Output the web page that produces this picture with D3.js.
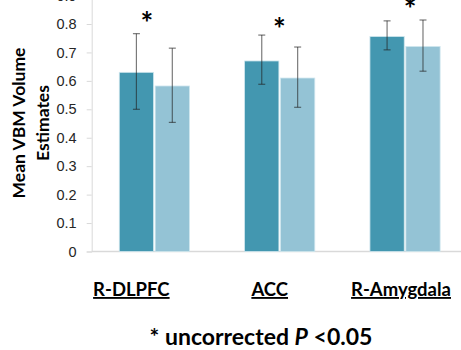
<!DOCTYPE html>
<html>
<head>
<meta charset="utf-8">
<script src="https://cdn.jsdelivr.net/npm/d3@7"></script>
<style>
  html, body { margin: 0; padding: 0; background: #fff; overflow: hidden; }
  svg { display: block; font-family: Lato, "Open Sans", sans-serif; }
</style>
</head>
<body>
<div id="chart"></div>
<script>
// data
const regions = ['R-DLPFC', 'ACC', 'R-Amygdala'];
const series = ['group1', 'group2'];
const group1Mean = [0.63, 0.67, 0.756];
const group1Lo = [0.50, 0.588, 0.709];
const group1Hi = [0.766, 0.761, 0.811];
const group2Mean = [0.582, 0.61, 0.721];
const group2Lo = [0.454, 0.507, 0.634];
const group2Hi = [0.715, 0.719, 0.814];
const sigLevel = [0.82, 0.80, 0.872]; // where the * sits
const yTicks = [0, 0.1, 0.2, 0.3, 0.4, 0.5, 0.6, 0.7, 0.8, 0.9];

const colors = { group1: '#4397b0', group2: '#94c3d5' };

const width = 461;
const height = 350;

const svg = d3.select('#chart')
  .append('svg')
  .attr('width', width)
  .attr('height', height);

const x = d3.scaleBand()
  .domain(regions)
  .range([91.7, 467.7])
  .paddingInner(0.44)
  .paddingOuter(0.22);

const xSub = d3.scaleBand()
  .domain(series)
  .range([0, x.bandwidth()])
  .paddingInner(0.045);

const y = d3.scaleLinear()
  .domain([0, 0.9])
  .range([251.5, -4.45]);

const rows = [];
regions.forEach((r, i) => {
  rows.push({ region: r, s: 'group1', v: group1Mean[i], lo: group1Lo[i], hi: group1Hi[i] });
  rows.push({ region: r, s: 'group2', v: group2Mean[i], lo: group2Lo[i], hi: group2Hi[i] });
});

// y axis
const yAxis = svg.append('g')
  .attr('transform', 'translate(91.7,0)')
  .call(d3.axisLeft(y).tickValues(yTicks).tickSize(5).tickPadding(10)
    .tickFormat(d => d === 0 ? '0' : d3.format('.1f')(d)));
yAxis.select('.domain').attr('stroke', '#d9d9d9');
yAxis.selectAll('.tick line').attr('stroke', '#d9d9d9');
yAxis.selectAll('.tick text')
  .attr('fill', '#262626')
  .style('font-size', '14.5px');

// baseline
svg.append('line')
  .attr('x1', 91.7).attr('x2', width)
  .attr('y1', y(0)).attr('y2', y(0))
  .attr('stroke', '#d9d9d9')
  .attr('stroke-width', 1.5);

// bars
svg.selectAll('.bar')
  .data(rows)
  .enter()
  .append('rect')
  .attr('class', 'bar')
  .attr('x', d => x(d.region) + xSub(d.s))
  .attr('y', d => y(d.v))
  .attr('width', xSub.bandwidth())
  .attr('height', d => y(0) - y(d.v))
  .attr('fill', d => colors[d.s])
  .attr('stroke', '#cfe6ee')
  .attr('stroke-width', 0.8);

// error bars
const err = svg.selectAll('.err')
  .data(rows)
  .enter()
  .append('g')
  .attr('class', 'err')
  .attr('stroke', '#222')
  .attr('stroke-opacity', 0.6)
  .attr('stroke-width', 1.2)
  .attr('transform', d => `translate(${x(d.region) + xSub(d.s) + xSub.bandwidth() / 2},0)`);
err.append('line')
  .attr('y1', d => y(d.lo)).attr('y2', d => y(d.hi));
err.append('line')
  .attr('x1', -3.5).attr('x2', 3.5)
  .attr('y1', d => y(d.hi)).attr('y2', d => y(d.hi));
err.append('line')
  .attr('x1', -3.5).attr('x2', 3.5)
  .attr('y1', d => y(d.lo)).attr('y2', d => y(d.lo));

// significance stars
const starShift = [-7.6, -0.4, 5];
svg.selectAll('.star')
  .data(regions)
  .enter()
  .append('text')
  .attr('class', 'star')
  .attr('x', (d, i) => x(d) + x.bandwidth() / 2 + starShift[i])
  .attr('y', (d, i) => y(sigLevel[i]) + 16)
  .attr('text-anchor', 'middle')
  .style('font-size', '30px')
  .style('font-weight', 'bold')
  .text('*');

// category labels
const labelShift = [-23, -10, -4];
svg.selectAll('.cat')
  .data(regions)
  .enter()
  .append('text')
  .attr('class', 'cat')
  .attr('x', (d, i) => x(d) + x.bandwidth() / 2 + labelShift[i])
  .attr('y', 296)
  .attr('text-anchor', 'middle')
  .style('font-size', '18.5px')
  .style('font-weight', 'bold')
  .style('text-decoration', 'underline')
  .attr('fill', '#000')
  .text(d => d);

// y title
const yt = svg.append('text')
  .attr('transform', 'translate(19,123) rotate(-90)')
  .attr('text-anchor', 'middle')
  .style('font-size', '17.5px')
  .style('font-weight', 'bold')
  .attr('fill', '#000');
yt.append('tspan').attr('x', 0).attr('dy', '0.35em').text('Mean VBM Volume');
yt.append('tspan').attr('x', 0).attr('dy', '1.37em').text('Estimates');

// footnote
const fn = svg.append('text')
  .attr('x', 261)
  .attr('y', 345)
  .attr('text-anchor', 'middle')
  .style('font-size', '23px')
  .style('font-weight', 'bold')
  .attr('fill', '#000');
fn.append('tspan').text('* uncorrected ');
fn.append('tspan').style('font-style', 'italic').text('P');
fn.append('tspan').text(' <0.05');
</script>
</body>
</html>
